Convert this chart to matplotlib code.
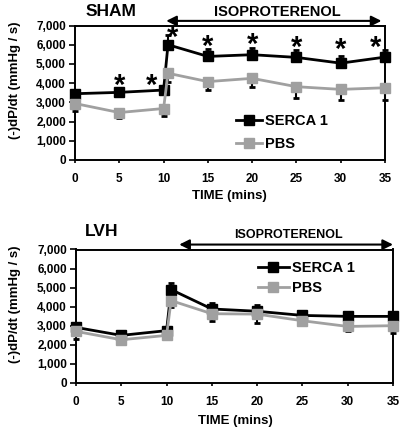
import matplotlib
matplotlib.use("Agg")
import matplotlib.pyplot as plt
from matplotlib.ticker import FuncFormatter

plt.rcParams['font.family'] = ['Liberation Sans', 'DejaVu Sans']
plt.rcParams['font.weight'] = 'bold'

time = [0, 5, 10, 10.5, 15, 20, 25, 30, 35]

sham_serca = [3450, 3520, 3640, 6000, 5390, 5480, 5340, 5040, 5355]
sham_serca_err = [120, 150, 200, 500, 380, 350, 360, 380, 380]
sham_pbs = [2940, 2470, 2680, 4515, 4080, 4250, 3815, 3675, 3760]
sham_pbs_err = [400, 270, 380, 450, 450, 450, 570, 575, 660]

lvh_serca = [2900, 2480, 2730, 4890, 3870, 3750, 3530, 3480, 3480]
lvh_serca_err = [150, 100, 150, 350, 320, 350, 200, 200, 200]
lvh_pbs = [2690, 2250, 2480, 4310, 3620, 3600, 3250, 2950, 2990]
lvh_pbs_err = [390, 100, 150, 350, 360, 470, 200, 250, 390]

star_x = [5, 8.6, 11.0, 15, 20, 25, 30, 33.9]
star_y = [3880, 3880, 6360, 5880, 5980, 5820, 5720, 5820]

yticks = [0, 1000, 2000, 3000, 4000, 5000, 6000, 7000]
xticks = [0, 5, 10, 15, 20, 25, 30, 35]

GREY = '#a0a0a0'

fig = plt.figure(figsize=(4.0, 4.28), dpi=100)
ax1 = fig.add_axes([75/400, 1-160/428, 310/400, 134.5/428])
ax2 = fig.add_axes([76/400, 1-382.5/428, 317/400, 133/428])


def draw(ax, serca, serr, pbs, perr):
    z = [0]*len(time)
    ax.errorbar(time, serca, yerr=[z, serr], fmt='none', ecolor='black',
                elinewidth=1.5, capsize=2.5, capthick=2, clip_on=False, zorder=2)
    ax.errorbar(time, pbs, yerr=[perr, z], fmt='none', ecolor='black',
                elinewidth=1.5, capsize=2.5, capthick=2, clip_on=False, zorder=2)
    l1, = ax.plot(time, serca, color='black', lw=2, marker='s', ms=6.5,
                  label='SERCA 1', clip_on=False, zorder=3)
    l2, = ax.plot(time, pbs, color=GREY, lw=2, marker='s', ms=6.5,
                  label='PBS', clip_on=False, zorder=4)
    ax.set_xlim(0, 35)
    ax.set_ylim(0, 7000)
    ax.set_xticks(xticks)
    ax.set_yticks(yticks)
    ax.yaxis.set_major_formatter(FuncFormatter(lambda v, p: f'{int(v):,}'))
    ax.tick_params(direction='out', width=1.2, labelsize=8.5)
    ax.tick_params(axis='x', length=2.5, pad=7)
    ax.tick_params(axis='y', length=4.5, pad=2)
    for lab in ax.get_xticklabels() + ax.get_yticklabels():
        lab.set_fontweight('bold')
    for s in ax.spines.values():
        s.set_linewidth(1.4)
    return l1, l2


draw(ax1, sham_serca, sham_serca_err, sham_pbs, sham_pbs_err)
draw(ax2, lvh_serca, lvh_serca_err, lvh_pbs, lvh_pbs_err)

for sx, sy in zip(star_x, star_y):
    ax1.text(sx, sy, '*', fontsize=21, fontweight='bold', ha='center',
             va='center', clip_on=False)

# legends
ax1.legend(loc='center left', bbox_to_anchor=(236/400, 1-132.5/428),
           bbox_transform=fig.transFigure, frameon=False, fontsize=10.5,
           handlelength=1.8, handletextpad=0.2, labelspacing=0.6,
           borderpad=0, borderaxespad=0)
ax2.legend(loc='center left', bbox_to_anchor=(258/400, 1-278/428),
           bbox_transform=fig.transFigure, frameon=False, fontsize=10.5,
           handlelength=2.1, handletextpad=0.2, labelspacing=0.4,
           borderpad=0, borderaxespad=0)

# isoproterenol arrows
ax1.annotate('', xy=(34.6, 7240), xytext=(10.3, 7240), xycoords='data',
             arrowprops=dict(arrowstyle='<|-|>,head_length=0.6,head_width=0.3',
                             color='black', lw=1.5, shrinkA=0, shrinkB=0),
             annotation_clip=False)
ax1.text(22.9, 7710, 'ISOPROTERENOL', fontsize=10.5, fontweight='bold',
         ha='center', va='center', clip_on=False)
ax2.annotate('', xy=(35.0, 7260), xytext=(11.4, 7260), xycoords='data',
             arrowprops=dict(arrowstyle='<|-|>,head_length=0.6,head_width=0.3',
                             color='black', lw=1.5, shrinkA=0, shrinkB=0),
             annotation_clip=False)
ax2.text(23.5, 7740, 'ISOPROTERENOL', fontsize=9, fontweight='bold',
         ha='center', va='center', clip_on=False)

# titles and labels
fig.text(111/400, 1-11/428, 'SHAM', fontsize=12.5, fontweight='bold',
         ha='center', va='center')
fig.text(102/400, 1-232/428, 'LVH', fontsize=12.5, fontweight='bold',
         ha='center', va='center')
fig.text(15/400, 1-80/428, '(-)dP/dt (mmHg / s)', fontsize=9.5,
         fontweight='bold', rotation=90, ha='center', va='center')
fig.text(15/400, 1-304/428, '(-)dP/dt (mmHg / s)', fontsize=9.5,
         fontweight='bold', rotation=90, ha='center', va='center')
fig.text(229/400, 1-196/428, 'TIME (mins)', fontsize=9.5, fontweight='bold',
         ha='center', va='center')
fig.text(235/400, 1-421/428, 'TIME (mins)', fontsize=9.5, fontweight='bold',
         ha='center', va='center')

fig.savefig('out.png', dpi=100)
